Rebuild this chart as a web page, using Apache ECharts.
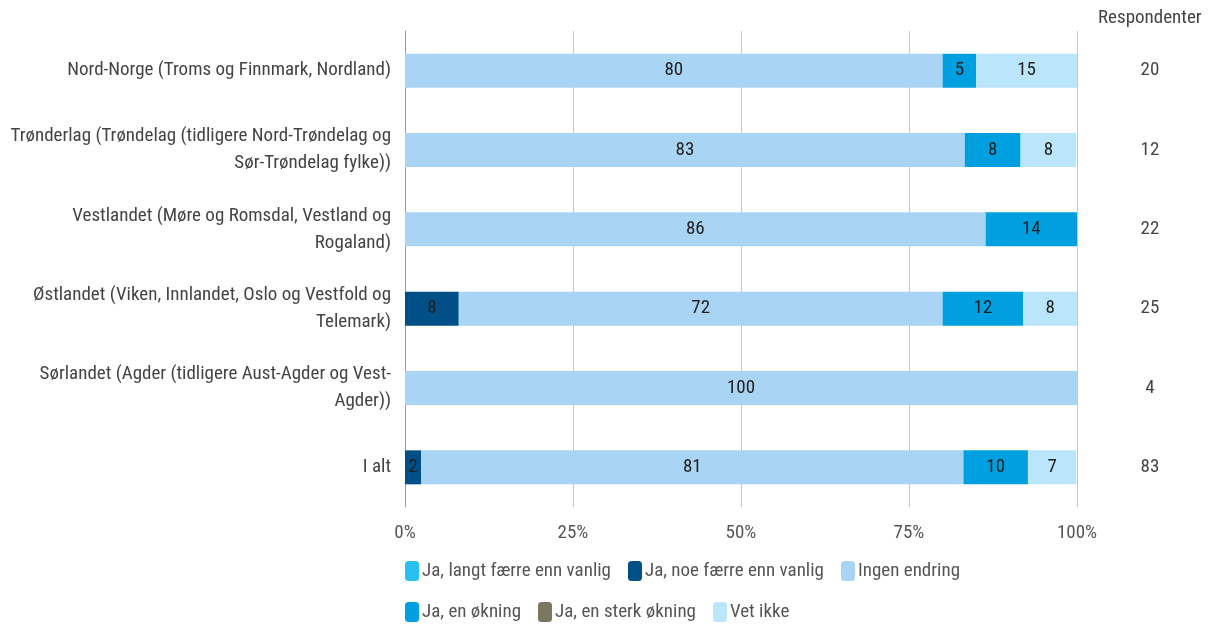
<!DOCTYPE html>
<html><head><meta charset="utf-8">
<script src="https://cdn.jsdelivr.net/npm/echarts@6/dist/echarts.min.js"></script>
<style>html,body{margin:0;padding:0;background:#fff}#c{width:1211px;height:624px}</style>
</head><body><div id="c"></div>
<script>
const categories = [
  "Nord-Norge (Troms og Finnmark, Nordland)",
  "Trønderlag (Trøndelag (tidligere Nord-Trøndelag og\nSør-Trøndelag fylke))",
  "Vestlandet (Møre og Romsdal, Vestland og\nRogaland)",
  "Østlandet (Viken, Innlandet, Oslo og Vestfold og\nTelemark)",
  "Sørlandet (Agder (tidligere Aust-Agder og Vest-\nAgder))",
  "I alt"
];
const respondents = [20, 12, 22, 25, 4, 83];
const seriesNames = ["Ja, langt færre enn vanlig", "Ja, noe færre enn vanlig", "Ingen endring", "Ja, en økning", "Ja, en sterk økning", "Vet ikke"];
const langtFaerre = [0, 0, 0, 0, 0, 0];
const noeFaerre   = [0, 0, 0, 8, 0, 2.4];
const ingenEndring = [80, 83.3, 86.4, 72, 100, 80.7];
const okning      = [5, 8.3, 13.6, 12, 0, 9.6];
const sterkOkning = [0, 0, 0, 0, 0, 0];
const vetIkke     = [15, 8.3, 0, 8, 0, 7.2];
const xTicks = [0, 25, 50, 75, 100];

const colors = ["#27c0ef", "#005087", "#a9d4f3", "#009fe0", "#7a7662", "#bae5fa"];
const FONT = "'Roboto Condensed','Liberation Sans Narrow',Roboto,sans-serif";
const allData = [langtFaerre, noeFaerre, ingenEndring, okning, sterkOkning, vetIkke];

const legendBase = {
  left: 400, width: 700, itemGap: 17, itemWidth: 14, itemHeight: 20,
  icon: 'roundRect', textStyle: {fontSize: 19, color: '#555', fontFamily: FONT, padding: [0,0,0,-2]}
};

const chart = echarts.init(document.getElementById('c'));
chart.setOption({
  animation: false,
  textStyle: {fontFamily: FONT},
  grid: {left: 405, right: 134, top: 31, bottom: 117},
  graphic: [{type: 'text', left: 1098, top: 9, style: {text: 'Respondenter', fontFamily: FONT, fontSize: 19, fill: '#444'}}],
  legend: [
    Object.assign({}, legendBase, {top: 556, data: seriesNames.slice(0, 3)}),
    Object.assign({}, legendBase, {top: 597, data: seriesNames.slice(3)})
  ],
  xAxis: {
    type: 'value', min: 0, max: 100, interval: 25,
    axisLabel: {formatter: v => xTicks.includes(v) ? v + '%' : '', fontSize: 19, color: '#555', margin: 17},
    splitLine: {lineStyle: {color: '#c8c8c8', width: 1}},
    axisLine: {show: false}, axisTick: {show: false}
  },
  yAxis: [{
    type: 'category', inverse: true, data: categories,
    axisLine: {lineStyle: {color: '#999'}}, axisTick: {show: false},
    axisLabel: {fontSize: 19, color: '#444', margin: 14, lineHeight: 27, align: 'right'}
  }, {
    type: 'category', inverse: true, position: 'right', data: respondents,
    axisLine: {show: false}, axisTick: {show: false},
    axisLabel: {fontSize: 19, color: '#444', margin: 73, align: 'center'}
  }],
  series: seriesNames.map((n, i) => ({
    name: n, type: 'bar', stack: 'a', barWidth: 34,
    itemStyle: {color: colors[i]},
    label: {show: true, position: 'inside', fontSize: 19, color: '#222',
      formatter: p => p.value > 0 ? Math.round(p.value) : ''},
    data: allData[i]
  }))
});
</script></body></html>
